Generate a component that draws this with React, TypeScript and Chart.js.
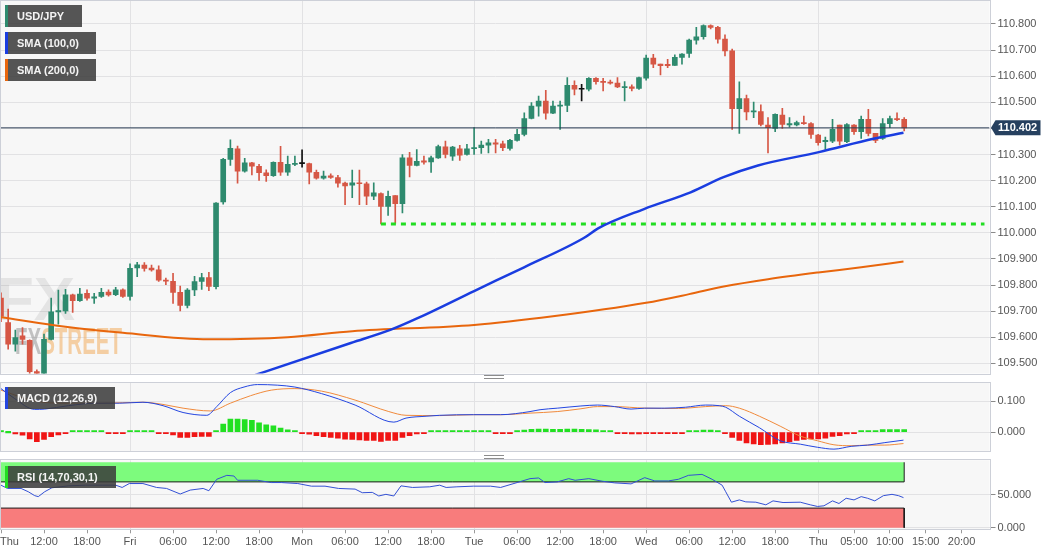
import React, { useEffect, useRef } from "react";
import { Chart, registerables } from "chart.js";

Chart.register(...registerables);

// ---------------- data (hourly USD/JPY candles) ----------------
const OPEN = [
  109.75, 109.656, 109.573, 109.605, 109.588, 109.468, 109.44, 109.592, 109.697, 109.701,
  109.762, 109.74, 109.768, 109.75, 109.756, 109.773, 109.763, 109.782, 109.756, 109.865,
  109.876, 109.865, 109.858, 109.819, 109.814, 109.772, 109.722, 109.781, 109.814, 109.828,
  109.794, 110.118, 110.281, 110.322, 110.236, 110.268, 110.255, 110.23, 110.219, 110.27,
  110.232, 110.262, 110.265, 110.265, 110.232, 110.209, 110.218, 110.212, 110.19, 110.182,
  110.191, 110.188, 110.14, 110.15, 110.101, 110.143, 110.112, 110.287, 110.258, 110.276,
  110.272, 110.287, 110.329, 110.294, 110.322, 110.3, 110.322, 110.326, 110.336, 110.345,
  110.341, 110.323, 110.354, 110.377, 110.438, 110.485, 110.505, 110.458, 110.485, 110.488,
  110.565, 110.55, 110.55, 110.592, 110.579, 110.577, 110.574, 110.556, 110.559, 110.553,
  110.592, 110.669, 110.646, 110.645, 110.641, 110.672, 110.687, 110.738, 110.751, 110.794,
  110.787, 110.742, 110.697, 110.476, 110.514, 110.463, 110.464, 110.413, 110.4, 110.451,
  110.413, 110.413, 110.422, 110.418, 110.374, 110.349, 110.351, 110.413, 110.349, 110.413,
  110.387, 110.435, 110.381, 110.362, 110.418, 110.438, 110.435,
];
const HIGH = [
  109.77, 109.708, 109.627, 109.637, 109.59, 109.475, 109.612, 109.75, 109.781, 109.783,
  109.765, 109.787, 109.782, 109.768, 109.787, 109.782, 109.791, 109.785, 109.881, 109.887,
  109.886, 109.876, 109.873, 109.827, 109.845, 109.796, 109.786, 109.833, 109.845, 109.849,
  110.116, 110.285, 110.356, 110.332, 110.285, 110.27, 110.262, 110.241, 110.272, 110.331,
  110.294, 110.294, 110.318, 110.267, 110.24, 110.236, 110.226, 110.22, 110.194, 110.24,
  110.24, 110.194, 110.191, 110.153, 110.16, 110.143, 110.3, 110.308, 110.319, 110.294,
  110.294, 110.336, 110.351, 110.331, 110.335, 110.339, 110.403, 110.351, 110.358, 110.358,
  110.351, 110.358, 110.396, 110.46, 110.499, 110.524, 110.546, 110.505, 110.505, 110.595,
  110.582, 110.569, 110.595, 110.595, 110.592, 110.585, 110.595, 110.579, 110.567, 110.597,
  110.681, 110.684, 110.646, 110.665, 110.682, 110.687, 110.742, 110.787, 110.797, 110.797,
  110.791, 110.758, 110.704, 110.578, 110.528, 110.501, 110.49, 110.441, 110.456, 110.477,
  110.441, 110.428, 110.447, 110.422, 110.377, 110.367, 110.435, 110.413, 110.418, 110.415,
  110.447, 110.473, 110.381, 110.438, 110.447, 110.46, 110.441,
];
const LOW = [
  109.66, 109.554, 109.547, 109.573, 109.455, 109.44, 109.42, 109.59, 109.65, 109.691,
  109.695, 109.737, 109.742, 109.729, 109.752, 109.757, 109.759, 109.752, 109.742, 109.832,
  109.853, 109.853, 109.814, 109.801, 109.729, 109.701, 109.712, 109.759, 109.783, 109.778,
  109.785, 110.11, 110.258, 110.19, 110.232, 110.222, 110.201, 110.197, 110.216, 110.22,
  110.22, 110.257, 110.251, 110.187, 110.205, 110.205, 110.208, 110.175, 110.108, 110.135,
  110.108, 110.108, 110.127, 110.034, 110.067, 110.036, 110.076, 110.214, 110.256, 110.263,
  110.231, 110.285, 110.287, 110.277, 110.277, 110.297, 110.3, 110.304, 110.306, 110.306,
  110.315, 110.317, 110.351, 110.371, 110.436, 110.447, 110.435, 110.456, 110.396, 110.464,
  110.528, 110.505, 110.544, 110.569, 110.544, 110.569, 110.556, 110.505, 110.544, 110.549,
  110.585, 110.633, 110.605, 110.633, 110.641, 110.646, 110.672, 110.723, 110.742, 110.781,
  110.726, 110.678, 110.396, 110.381, 110.432, 110.441, 110.409, 110.306, 110.387, 110.4,
  110.405, 110.409, 110.415, 110.362, 110.336, 110.319, 110.345, 110.336, 110.345, 110.377,
  110.362, 110.371, 110.345, 110.358, 110.403, 110.43, 110.39,
];
const CLOSE = [
  109.68, 109.573, 109.599, 109.592, 109.468, 109.455, 109.592, 109.697, 109.702, 109.762,
  109.74, 109.765, 109.75, 109.755, 109.772, 109.762, 109.782, 109.756, 109.864, 109.877,
  109.864, 109.858, 109.819, 109.815, 109.772, 109.722, 109.781, 109.813, 109.828, 109.795,
  110.114, 110.281, 110.324, 110.236, 110.268, 110.255, 110.23, 110.219, 110.27, 110.232,
  110.262, 110.265, 110.265, 110.232, 110.209, 110.217, 110.212, 110.19, 110.18, 110.191,
  110.188, 110.14, 110.153, 110.101, 110.14, 110.112, 110.287, 110.258, 110.274, 110.271,
  110.287, 110.33, 110.3, 110.328, 110.297, 110.322, 110.326, 110.336, 110.345, 110.34,
  110.326, 110.354, 110.377, 110.438, 110.485, 110.505, 110.458, 110.485, 110.488, 110.565,
  110.55, 110.55, 110.592, 110.579, 110.576, 110.573, 110.559, 110.559, 110.553, 110.595,
  110.669, 110.646, 110.64, 110.64, 110.672, 110.685, 110.738, 110.751, 110.794, 110.787,
  110.742, 110.697, 110.476, 110.514, 110.463, 110.467, 110.415, 110.403, 110.454, 110.415,
  110.418, 110.422, 110.418, 110.377, 110.345, 110.354, 110.396, 110.351, 110.415, 110.387,
  110.435, 110.381, 110.354, 110.418, 110.438, 110.433, 110.402,
];

// moving averages, read at sample candles: [candle index, value]
const SMA100 = [
  [33, 109.432], [35.8, 109.458], [48.8, 109.578], [54.4, 109.629], [58.2, 109.674],
  [66, 109.777], [72.9, 109.867], [81.3, 109.98], [83.3, 110.017], [89.7, 110.091],
  [96.2, 110.155], [100.8, 110.213], [105.6, 110.258], [114.1, 110.309], [121.7, 110.36],
  [125.9, 110.383],
];
const SMA200 = [
  [0, 109.677], [9, 109.64], [17, 109.617], [29, 109.592], [40, 109.6], [49, 109.623],
  [66, 109.647], [77, 109.68], [90, 109.732], [96, 109.765], [101, 109.795], [107, 109.822],
  [114, 109.848], [120, 109.868], [125.9, 109.89],
];

const CURRENT_PRICE = 110.402;
const SUPPORT_LEVEL = 110.034;
const SUPPORT_FROM = 53;
const SUPPORT_TO = 137.2;

// MACD (12,26,9)
const MACD_LINE = [
  [0, 0.14], [1.9, 0.108], [4.7, 0.073], [6.1, 0.074], [9.4, 0.085], [13.2, 0.093],
  [16.5, 0.093], [19.8, 0.096], [22.6, 0.085], [25.4, 0.063], [28.7, 0.054], [30.1, 0.082],
  [32, 0.127], [33.9, 0.145], [35.8, 0.153], [38.6, 0.151], [41, 0.145], [44.7, 0.124],
  [49.4, 0.087], [54.8, 0.032], [56.5, 0.045], [59.3, 0.051], [61.2, 0.054], [65.9, 0.056],
  [69.7, 0.056], [73.8, 0.066], [75.2, 0.072], [77.6, 0.077], [80.9, 0.084], [83.2, 0.087],
  [85.6, 0.082], [87.9, 0.074], [89.8, 0.077], [92.6, 0.077], [95.5, 0.08], [98.3, 0.087],
  [100.2, 0.085], [101.1, 0.08], [103, 0.051], [105.8, 0.014], [108.7, -0.028],
  [111.5, -0.039], [113.9, -0.049], [116.2, -0.055], [118.6, -0.046], [120.9, -0.042],
  [123.3, -0.034], [125.9, -0.026],
];
const MACD_SIGNAL = [
  [0, 0.135], [4.7, 0.1], [9.4, 0.093], [14.1, 0.093], [19.8, 0.096], [22.6, 0.089],
  [25.4, 0.077], [29.2, 0.068], [32, 0.093], [34.8, 0.117], [37.7, 0.135], [41, 0.14],
  [44.7, 0.132], [49.4, 0.103], [54.1, 0.066], [56.5, 0.054], [61.2, 0.053], [65.9, 0.056],
  [69.7, 0.056], [73.8, 0.061], [77.6, 0.066], [80.9, 0.075], [83.2, 0.082], [85.6, 0.082],
  [89.8, 0.077], [94.5, 0.076], [98.3, 0.082], [101.1, 0.085], [103, 0.077], [105.8, 0.051],
  [108.7, 0.019], [111.5, -0.013], [113.9, -0.028], [116.2, -0.041], [118.6, -0.044],
  [120.9, -0.042], [123.3, -0.042], [125.9, -0.037],
];
const MACD_HIST = [
  0.005, 0, -0.006, -0.01, -0.022, -0.031, -0.024, -0.015, -0.009, -0.003,
  0.002, 0.002, 0.002, 0.002, 0.002, -0.002, -0.002, -0.002, 0.002, 0.002,
  0.002, 0.001, -0.002, -0.003, -0.009, -0.017, -0.017, -0.015, -0.014, -0.014,
  0.001, 0.026, 0.042, 0.042, 0.04, 0.038, 0.03, 0.023, 0.02, 0.013,
  0.007, 0.001, -0.002, -0.007, -0.012, -0.015, -0.017, -0.02, -0.023, -0.024,
  -0.025, -0.027, -0.027, -0.03, -0.027, -0.027, -0.017, -0.012, -0.006, -0.003,
  0.002, 0.002, 0.002, 0.002, 0.002, 0.002, 0.002, 0.002, 0.002, -0.002,
  -0.002, -0.002, 0.003, 0.006, 0.009, 0.01, 0.01, 0.009, 0.009, 0.01,
  0.01, 0.009, 0.008, 0.007, 0.004, 0.002, -0.001, -0.004, -0.006, -0.006,
  -0.001, -0.001, -0.001, -0.001, -0.001, -0.001, 0.003, 0.005, 0.006, 0.006,
  0.002, -0.001, -0.017, -0.027, -0.035, -0.038, -0.041, -0.04, -0.038, -0.035,
  -0.031, -0.027, -0.024, -0.022, -0.022, -0.02, -0.014, -0.012, -0.006, -0.003,
  0.001, 0.002, 0.002, 0.008, 0.008, 0.008, 0.008,
];

// RSI (14,70,30,1)
const RSI = [
  [0, 65], [0.9, 60], [2.8, 60], [3.8, 55], [4.7, 49], [5.2, 47.5], [6.1, 55], [7.1, 61],
  [9.4, 64], [11.8, 65], [14.1, 65], [16, 65], [16.9, 61.5], [17.9, 67.5], [19.8, 67.5],
  [21.7, 61.5], [23.1, 60], [25, 51.5], [26.4, 57.5], [28.2, 60], [29, 56.5], [30.1, 74],
  [31.5, 80], [32.5, 79], [33, 72.5], [35.8, 72.5], [37.7, 69], [39.1, 69], [41.4, 67.5],
  [43.3, 63.5], [45.2, 63.5], [47.1, 60], [49.4, 59], [50.4, 53.5], [51.8, 54], [52.7, 48.5],
  [53.7, 51], [54.8, 48.5], [55.8, 64], [57.4, 61.5], [59.8, 62.5], [61.2, 65], [62.1, 61.5],
  [63.6, 62.5], [65.9, 63.5], [68.3, 63.5], [69.7, 61.5], [72, 69], [73.8, 75], [75, 76],
  [75.9, 69], [77.6, 70], [79.2, 75], [80.1, 72.5], [82, 75], [83.9, 71], [85.6, 68.5],
  [87.9, 67], [89.8, 76.5], [91.2, 71.5], [93.1, 71.5], [94.5, 74], [95.9, 80], [97.8, 81.5],
  [99.2, 74], [100.6, 65], [101.1, 55], [101.9, 39], [103, 42.5], [103.9, 39.5], [105.3, 39],
  [106.7, 35], [107.7, 41], [109.1, 38.5], [111.5, 39], [112.9, 35], [113.9, 32.5],
  [114.8, 33.5], [116, 41], [116.9, 37], [117.9, 45], [119, 42.5], [120, 47.5], [120.9, 45],
  [121.9, 41], [123.1, 49], [124.3, 51], [125.2, 49], [125.9, 46],
];
const RSI_OVERBOUGHT = 70;
const RSI_OVERSOLD = 30;
const RSI_TOP = 100;
const RSI_BOTTOM = 0;

// axes
const X_TICKS = [
  [0, "Thu"], [6, "12:00"], [12, "18:00"], [18, "Fri"], [24, "06:00"], [30, "12:00"],
  [36, "18:00"], [42, "Mon"], [48, "06:00"], [54, "12:00"], [60, "18:00"], [66, "Tue"],
  [72, "06:00"], [78, "12:00"], [84, "18:00"], [90, "Wed"], [96, "06:00"], [102, "12:00"],
  [108, "18:00"], [114, "Thu"], [119, "05:00"], [124, "10:00"], [129, "15:00"], [134, "20:00"],
];
const DAY_TICKS = [18, 42, 66, 90, 114];
const PRICE_TICKS = [109.5, 109.6, 109.7, 109.8, 109.9, 110.0, 110.1, 110.2, 110.3, 110.4, 110.5, 110.6, 110.7, 110.8];
const MACD_TICKS = [0, 0.1];
const RSI_TICKS = [0, 50];

// ---------------- style ----------------
const FONT = '"Liberation Sans", Arial, sans-serif';
const X_MIN = 0;
const X_MAX = 137.9;
const Y_AXIS_W = 70.5;
const GRID = "#e2e2e4";
const PLOT_BG = "#f7f7f7";
const FRAME = "#cdd0d8";
const UP = "#2e8a6e";
const DOWN = "#d65745";
const DOJI = "#111111";
const LAST = OPEN.length - 1;

const candleColor = (i: number) => (CLOSE[i] > OPEN[i] ? UP : CLOSE[i] < OPEN[i] ? DOWN : DOJI);
const IDX = OPEN.map((_, i) => i);
const pts = (arr: number[][]) => arr.map(([x, y]) => ({ x, y }));

const framePlugin = {
  id: "frame",
  beforeDraw(chart: any) {
    const { ctx, chartArea: a } = chart;
    ctx.save();
    ctx.fillStyle = PLOT_BG;
    ctx.fillRect(a.left, a.top, a.right - a.left, a.bottom - a.top);
    ctx.restore();
  },
  afterDraw(chart: any) {
    const { ctx, chartArea: a } = chart;
    ctx.save();
    ctx.strokeStyle = FRAME;
    ctx.lineWidth = 1;
    ctx.strokeRect(Math.round(a.left) - 0.5, Math.round(a.top) - 0.5, Math.round(a.right - a.left) + 1, Math.round(a.bottom - a.top) + 1);
    ctx.restore();
  },
};

const watermarkPlugin = {
  id: "watermark",
  beforeDatasetsDraw(chart: any) {
    const { ctx } = chart;
    ctx.save();
    ctx.globalAlpha = 0.1;
    ctx.fillStyle = "#444";
    ctx.font = `bold 62px ${FONT}`;
    ctx.textBaseline = "alphabetic";
    ctx.fillText("FX", -4, 320);
    ctx.globalAlpha = 0.5;
    ctx.font = `bold 36px "Liberation Sans Narrow", ${FONT}`;
    const w1 = ctx.measureText("FX").width;
    const w2 = ctx.measureText("STREET").width;
    const sx = 107 / (w1 + w2);
    ctx.translate(15, 354);
    ctx.scale(sx, 1);
    ctx.fillStyle = "#8c8c8c";
    ctx.fillText("FX", 0, 0);
    ctx.fillStyle = "#f2a650";
    ctx.fillText("STREET", w1, 0);
    ctx.restore();
  },
};

const priceTagPlugin = {
  id: "priceTag",
  afterDraw(chart: any) {
    const { ctx, chartArea: a, scales } = chart;
    const py = scales.y.getPixelForValue(CURRENT_PRICE);
    const h = 7.5;
    ctx.save();
    ctx.fillStyle = "#26405f";
    ctx.beginPath();
    ctx.moveTo(a.right + 1.5, py);
    ctx.lineTo(a.right + 6, py - h);
    ctx.lineTo(1040.5, py - h);
    ctx.lineTo(1040.5, py + h);
    ctx.lineTo(a.right + 6, py + h);
    ctx.closePath();
    ctx.fill();
    ctx.fillStyle = "#ffffff";
    ctx.font = `bold 11px ${FONT}`;
    ctx.textBaseline = "middle";
    ctx.fillText(CURRENT_PRICE.toFixed(3), a.right + 8.5, py + 0.5);
    ctx.restore();
  },
};

const xLabelsPlugin = {
  id: "xLabels",
  afterDraw(chart: any) {
    const { ctx, chartArea: a, scales } = chart;
    ctx.save();
    ctx.font = `11px ${FONT}`;
    ctx.fillStyle = "#555";
    ctx.textBaseline = "middle";
    X_TICKS.forEach(([v, label]: any) => {
      const px = scales.x.getPixelForValue(v);
      const w = ctx.measureText(label).width;
      ctx.fillText(label, Math.max(0, px - w / 2), a.bottom + 13);
    });
    ctx.restore();
  },
};

function xScale(showTicks: boolean, axisH: number) {
  return {
    type: "linear",
    min: X_MIN,
    max: X_MAX,
    offset: false,
    afterBuildTicks: (s: any) => {
      s.ticks = X_TICKS.map(([v]) => ({ value: v }));
    },
    afterFit: (s: any) => {
      s.height = axisH;
      s.paddingLeft = 0;
      s.paddingRight = 0;
    },
    grid: {
      offset: false,
      color: (c: any) => (c.tick && DAY_TICKS.includes(c.tick.value) ? GRID : "rgba(0,0,0,0)"),
      drawTicks: showTicks,
      tickLength: 4,
      tickColor: "#9a9a9a",
      lineWidth: 1,
    },
    border: { display: false },
    ticks: { display: false },
  };
}

function yScale(min: number, max: number, ticks: number[], fmt: (v: number) => string) {
  return {
    type: "linear",
    position: "right",
    min,
    max,
    afterBuildTicks: (s: any) => {
      s.ticks = ticks.map((v) => ({ value: v }));
    },
    afterFit: (s: any) => {
      s.width = Y_AXIS_W;
      s.paddingTop = 0;
      s.paddingBottom = 0;
    },
    grid: { color: GRID, drawTicks: true, tickLength: 6, tickColor: "#8a8a8a" },
    border: { display: false },
    ticks: {
      color: "#555",
      font: { family: FONT, size: 11 },
      padding: 2,
      autoSkip: false,
      callback: (v: any) => fmt(Number(v)),
    },
  };
}

const baseOptions = (padding: any) => ({
  responsive: false,
  animation: false,
  events: [],
  layout: { padding },
  plugins: { legend: { display: false }, tooltip: { enabled: false } },
});

function mainConfig(): any {
  return {
    type: "bar",
    data: {
      datasets: [
        {
          type: "bar",
          data: IDX.map((i) => ({ x: i, y: [LOW[i], HIGH[i]] })),
          backgroundColor: IDX.map(candleColor),
          barThickness: 1,
          maxBarThickness: 1,
          grouped: false,
          order: 6,
        },
        {
          type: "bar",
          data: IDX.map((i) => ({ x: i, y: [OPEN[i], CLOSE[i]] })),
          backgroundColor: IDX.map(candleColor),
          barThickness: 5,
          maxBarThickness: 5,
          minBarLength: 1,
          grouped: false,
          order: 5,
        },
        {
          type: "line",
          data: [{ x: X_MIN, y: CURRENT_PRICE }, { x: X_MAX, y: CURRENT_PRICE }],
          borderColor: "#2c3e56",
          borderWidth: 1,
          pointRadius: 0,
          order: 4,
        },
        {
          type: "line",
          data: [{ x: SUPPORT_FROM, y: SUPPORT_LEVEL }, { x: SUPPORT_TO, y: SUPPORT_LEVEL }],
          borderColor: "#22dd22",
          borderWidth: 3,
          borderDash: [5, 5],
          pointRadius: 0,
          order: 3,
        },
        {
          type: "line",
          data: pts(SMA200),
          borderColor: "#e8660d",
          borderWidth: 2,
          pointRadius: 0,
          cubicInterpolationMode: "monotone",
          order: 2,
        },
        {
          type: "line",
          data: pts(SMA100),
          borderColor: "#1a3de0",
          borderWidth: 2.5,
          pointRadius: 0,
          cubicInterpolationMode: "monotone",
          order: 1,
        },
      ],
    },
    options: {
      ...baseOptions({ left: 1, right: 0, top: 1, bottom: 4.5 }),
      scales: {
        x: xScale(false, 0),
        y: yScale(109.461, 110.888, PRICE_TICKS, (v) => (Math.abs(v - CURRENT_PRICE) < 0.01 ? "" : v.toFixed(3))),
      },
    },
    plugins: [framePlugin, watermarkPlugin, priceTagPlugin],
  };
}

function macdConfig(): any {
  return {
    type: "bar",
    data: {
      datasets: [
        {
          type: "bar",
          data: MACD_HIST.map((v, i) => ({ x: i, y: v })),
          backgroundColor: MACD_HIST.map((v) => (v >= 0 ? "#22e022" : "#f01414")),
          barThickness: 5,
          maxBarThickness: 5,
          minBarLength: 1.5,
          grouped: false,
          order: 3,
        },
        {
          type: "line",
          data: pts(MACD_SIGNAL),
          borderColor: "#f08a3c",
          borderWidth: 1,
          pointRadius: 0,
          cubicInterpolationMode: "monotone",
          order: 2,
        },
        {
          type: "line",
          data: pts(MACD_LINE),
          borderColor: "#2446e0",
          borderWidth: 1,
          pointRadius: 0,
          cubicInterpolationMode: "monotone",
          order: 1,
        },
      ],
    },
    options: {
      ...baseOptions({ left: 1, right: 0, top: 4.7, bottom: 5 }),
      scales: {
        x: xScale(false, 0),
        y: yScale(-0.061, 0.159, MACD_TICKS, (v) => v.toFixed(3)),
      },
    },
    plugins: [framePlugin],
  };
}

function rsiConfig(): any {
  return {
    type: "line",
    data: {
      datasets: [
        {
          data: [{ x: X_MIN, y: RSI_OVERBOUGHT }, { x: LAST, y: RSI_OVERBOUGHT }, { x: LAST, y: RSI_TOP }],
          borderColor: "#1a1a1a",
          borderWidth: 1,
          backgroundColor: "#7dfb7d",
          fill: { value: RSI_TOP },
          pointRadius: 0,
          tension: 0,
          order: 10,
        },
        {
          data: [{ x: X_MIN, y: RSI_OVERSOLD }, { x: LAST, y: RSI_OVERSOLD }, { x: LAST, y: RSI_BOTTOM }],
          borderColor: "#1a1a1a",
          borderWidth: 1,
          backgroundColor: "#f87c7c",
          fill: { value: RSI_BOTTOM },
          pointRadius: 0,
          tension: 0,
          order: 9,
        },
        {
          data: pts(RSI),
          borderColor: "#3350d4",
          borderWidth: 1,
          pointRadius: 0,
          tension: 0,
          fill: false,
          order: 0,
        },
      ],
    },
    options: {
      ...baseOptions({ left: 1, right: 0, top: 4.3, bottom: 0 }),
      scales: {
        x: xScale(true, 25.7),
        y: yScale(-2.4, 103, RSI_TICKS, (v) => v.toFixed(3)),
      },
    },
    plugins: [framePlugin, xLabelsPlugin],
  };
}

function Tag(props: { top: number; width: number; stripe: string; text: string; bg?: string }) {
  return (
    <div
      style={{
        position: "absolute",
        left: 5,
        top: props.top,
        width: props.width,
        height: 22,
        boxSizing: "border-box",
        background: props.bg || "rgba(58,58,58,0.86)",
        borderLeft: `3px solid ${props.stripe}`,
        color: "#f4f4f4",
        font: `bold 11px ${FONT}`,
        lineHeight: "22px",
        paddingLeft: 9,
        whiteSpace: "nowrap",
      }}
    >
      {props.text}
    </div>
  );
}

function Handle(props: { top: number }) {
  return (
    <>
      <div style={{ position: "absolute", left: 484, top: props.top, width: 20, height: 1, background: "#8c8c8c" }} />
      <div style={{ position: "absolute", left: 484, top: props.top + 3, width: 20, height: 1, background: "#8c8c8c" }} />
    </>
  );
}

export default function App() {
  const mainRef = useRef<HTMLCanvasElement>(null);
  const macdRef = useRef<HTMLCanvasElement>(null);
  const rsiRef = useRef<HTMLCanvasElement>(null);

  useEffect(() => {
    document.body.style.margin = "0";
    const charts = [
      new Chart(mainRef.current as HTMLCanvasElement, mainConfig()),
      new Chart(macdRef.current as HTMLCanvasElement, macdConfig()),
      new Chart(rsiRef.current as HTMLCanvasElement, rsiConfig()),
    ];
    return () => charts.forEach((c) => c.destroy());
  }, []);

  const cv = (top: number, h: number) => ({ position: "absolute" as const, left: 0, top, width: 1060, height: h });

  return (
    <div style={{ position: "fixed", left: 0, top: 0, width: 1060, height: 555, background: "#ffffff", overflow: "hidden" }}>
      <canvas ref={mainRef} width={1060} height={378} style={cv(0, 378)} />
      <canvas ref={macdRef} width={1060} height={78} style={cv(378, 78)} />
      <canvas ref={rsiRef} width={1060} height={99} style={cv(456, 99)} />
      <Tag top={5} width={77} stripe="#2e8a6e" text="USD/JPY" />
      <Tag top={32} width={91} stripe="#1a3de0" text="SMA (100,0)" />
      <Tag top={59} width={91} stripe="#e8660d" text="SMA (200,0)" />
      <Tag top={387} width={110} stripe="#2446e0" text="MACD (12,26,9)" />
      <Tag top={466} width={111} stripe="#22dd22" text="RSI (14,70,30,1)" />
      <Handle top={375} />
      <Handle top={455} />
    </div>
  );
}
